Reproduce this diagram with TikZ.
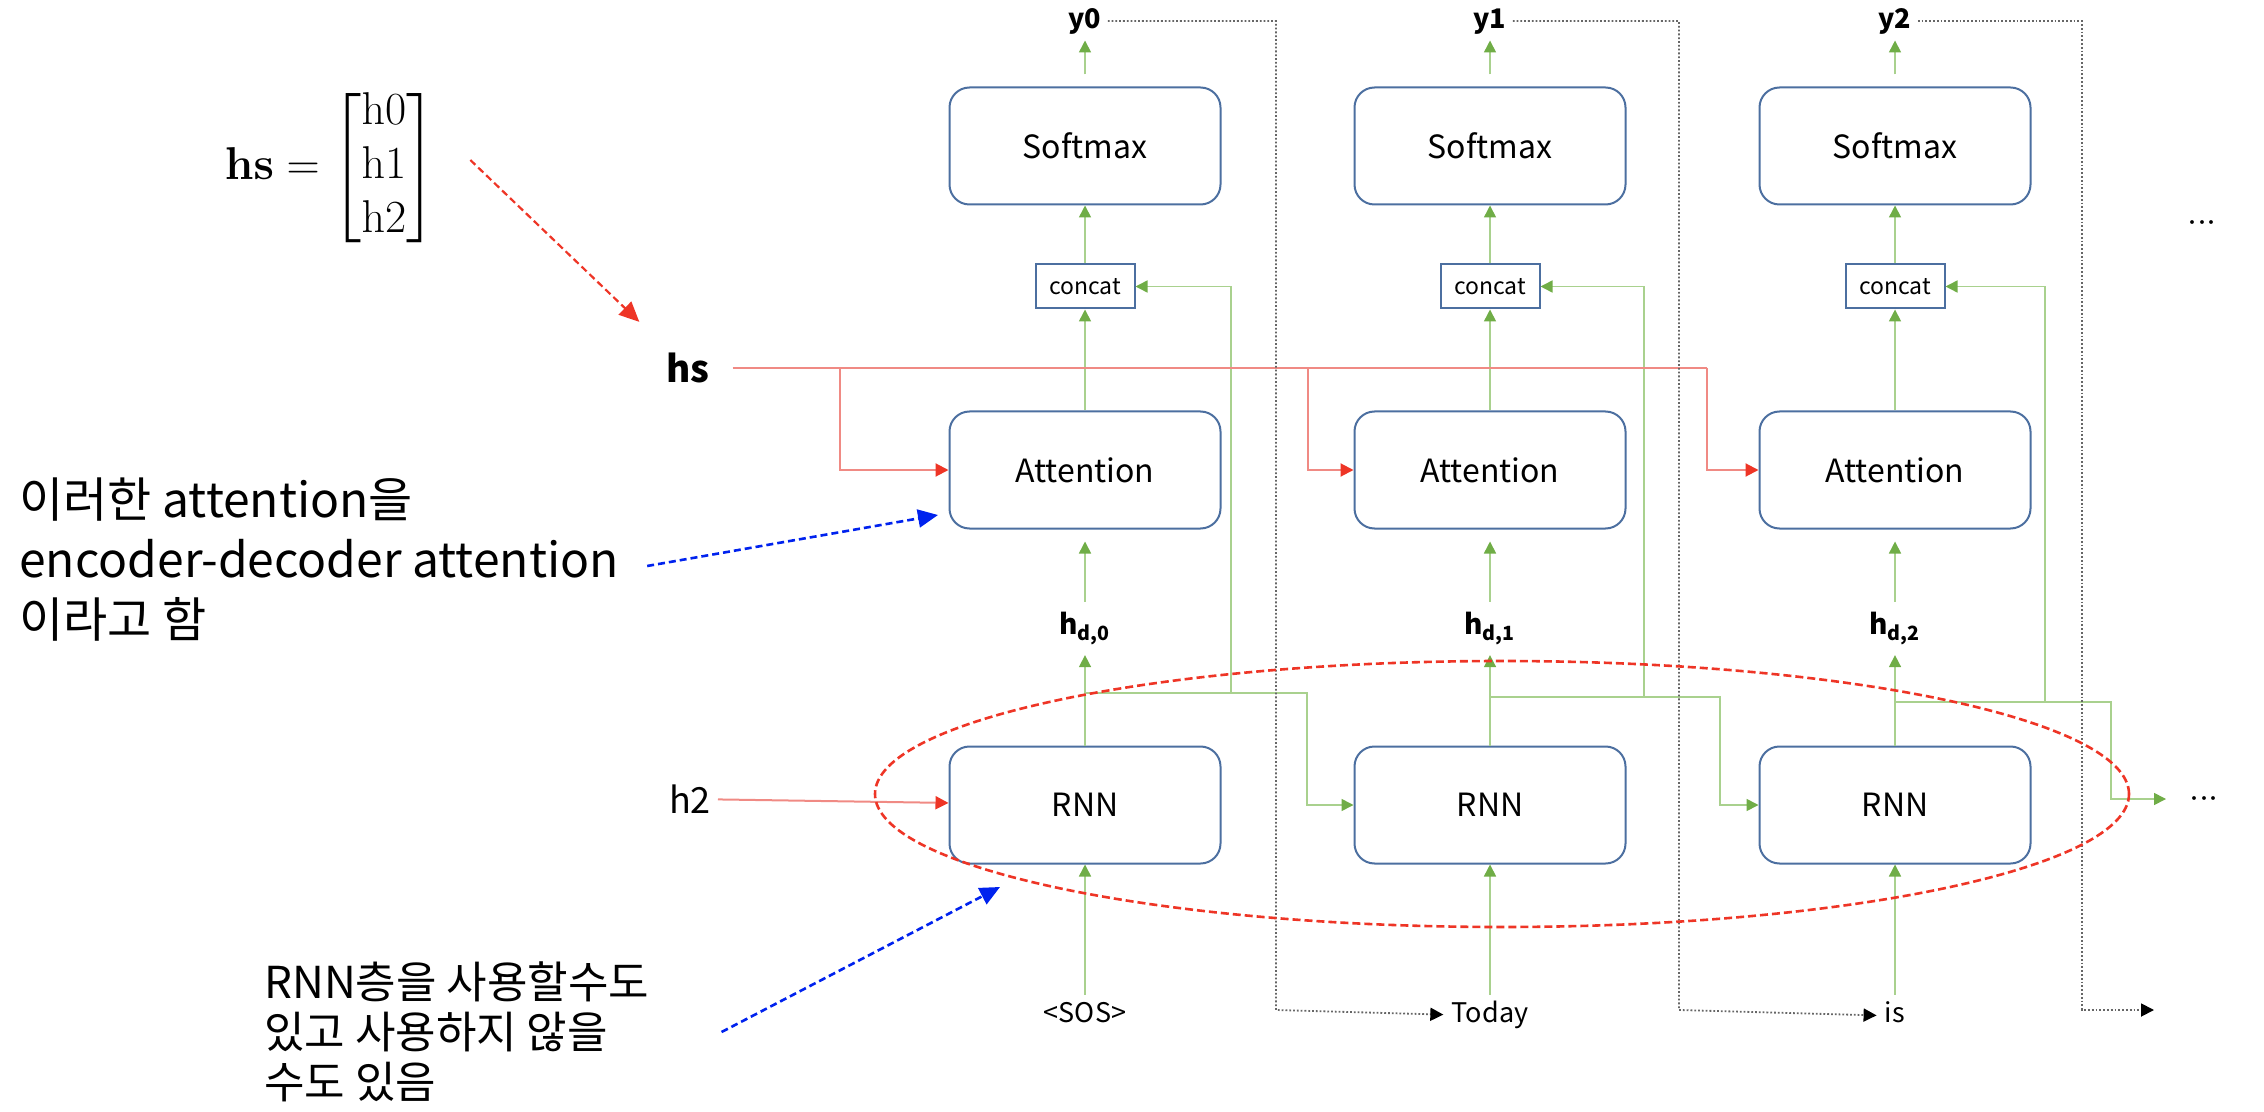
\RequirePackage{fix-cm}
\documentclass[tikz,border=0pt]{standalone}
\usepackage{amsmath}
\usepackage[no-math]{fontspec}
\setmainfont{Noto Sans CJK KR}
\usepackage{tikz}
\usetikzlibrary{arrows.meta,positioning}
\definecolor{boxblue}{HTML}{4C6FA0}
\definecolor{lgreen}{HTML}{A9D18E}
\definecolor{dgreen}{HTML}{70AD47}
\definecolor{softred}{HTML}{F08A84}
\definecolor{hotred}{HTML}{EE3526}
\definecolor{markblue}{HTML}{0022EE}
\definecolor{dotgray}{HTML}{666666}

\begin{document}
\begin{tikzpicture}[
  x=0.5pt,y=-0.5pt,
  node distance=66pt,
  box/.style={draw=boxblue,line width=1pt,rounded corners=10pt,
              minimum width=135.5pt,minimum height=58.5pt,font=\fontsize{16}{19}\selectfont},
  catbox/.style={draw=boxblue,line width=1pt,minimum width=49.5pt,minimum height=22pt,
              inner sep=0pt,font=\fontsize{11.5}{14}\selectfont},
  word/.style={font=\fontsize{13.5}{16}\selectfont,text height=10pt,text depth=3pt,inner sep=4pt},
  outlabel/.style={font=\bfseries\fontsize{13.5}{16}\selectfont,text height=10pt,text depth=3pt,inner sep=3pt},
  hdlabel/.style={font=\bfseries\fontsize{14}{17}\selectfont,inner sep=5pt},
  note/.style={align=left,inner sep=0pt},
  gline/.style={draw=lgreen,line width=0.8pt},
  garr/.style={gline,-{Triangle[length=6pt,width=6pt,color=dgreen]}},
  rline/.style={draw=softred,line width=1pt},
  rarr/.style={rline,-{Triangle[length=6.5pt,width=6.5pt,color=hotred]}},
  darr/.style={draw=dotgray,densely dotted,line width=0.9pt,-{Triangle[length=6.5pt,width=6.5pt,color=black]}},
  barr/.style={draw=markblue,dash pattern=on 3.5pt off 2pt,line width=1.3pt,-{Triangle[length=10pt,width=9pt]}},
  rdarr/.style={draw=hotred,dash pattern=on 3.5pt off 2pt,line width=1.1pt,-{Triangle[length=10pt,width=9pt]}}
]
\useasboundingbox (0,0) rectangle (2264,1112);

% decoder columns
\node[box] (soft0) at (1085,146) {Softmax};
\node[box,right=of soft0] (soft1) {Softmax};
\node[box,right=of soft1] (soft2) {Softmax};
\node[outlabel,above=23pt of soft0] (out0) {y0};
\node[outlabel,above=23pt of soft1] (out1) {y1};
\node[outlabel,above=23pt of soft2] (out2) {y2};
\node[catbox,below=29pt of soft0] (cat0) {concat};
\node[catbox,below=29pt of soft1] (cat1) {concat};
\node[catbox,below=29pt of soft2] (cat2) {concat};
\node[box,below=50.5pt of cat0] (att0) {Attention};
\node[box,below=50.5pt of cat1] (att1) {Attention};
\node[box,below=50.5pt of cat2] (att2) {Attention};
\node[hdlabel,below=36pt of att0] (hd0) {h\textsubscript{d,0}};
\node[hdlabel,below=36pt of att1] (hd1) {h\textsubscript{d,1}};
\node[hdlabel,below=36pt of att2] (hd2) {h\textsubscript{d,2}};
\node[box,below=108pt of att0] (rnn0) {RNN};
\node[box,below=108pt of att1] (rnn1) {RNN};
\node[box,below=108pt of att2] (rnn2) {RNN};
\node[word,below=65pt of rnn0] (in0) {<SOS>};
\node[word,below=65pt of rnn1] (in1) {Today};
\node[word,below=65pt of rnn2] (in2) {is};
\node[font=\fontsize{18}{20}\selectfont] (more1) at (2202,224) {$\mathord{\cdot}\mathord{\cdot}\mathord{\cdot}$};
\node[font=\fontsize{18}{20}\selectfont] (more2) at (2204,799) {$\mathord{\cdot}\mathord{\cdot}\mathord{\cdot}$};

% encoder side
\node[font=\fontsize{23}{27}\selectfont] (hsvec) at (330,168)
  {\delimitershortfall=15pt\delimiterfactor=800
   $\mathbf{hs} = \begin{bmatrix}\mathrm{h0}\\\mathrm{h1}\\\mathrm{h2}\end{bmatrix}$};
\node[font=\bfseries\fontsize{18.5}{22}\selectfont] (hs) at (688,368) {hs};
\node[font=\fontsize{18}{22}\selectfont] (h2) at (690,799) {h2};
\node[note,anchor=west,font=\fontsize{24}{30}\selectfont] (note1) at (19,560)
  {이러한 attention을\\encoder-decoder attention\\이라고 함};
\node[note,anchor=west,font=\fontsize{22}{25}\selectfont] (note2) at (264,1032)
  {RNN층을 사용할수도\\있고 사용하지 않을\\수도 있음};

\coordinate (d0) at (840,368);
\coordinate (d1) at (1308,368);
\coordinate (d2) at (1707,368);
\coordinate (b0) at (1085,693);
\coordinate (k0) at (1231,693);
\coordinate (j0) at (1307,693);
\coordinate (b1) at (1490,697);
\coordinate (k1) at (1644,697);
\coordinate (j1) at (1720,697);
\coordinate (b2) at (1895,702);
\coordinate (k2) at (2045,702);
\coordinate (j2) at (2111,702);
\coordinate (e2) at (2166,799);
\coordinate (f0) at (1276,1010);
\coordinate (f1) at (1679,1010);
\coordinate (f2) at (2082,1010);
\coordinate (e3) at (2154,1010);
\coordinate (t1) at (938,515);
\coordinate (t2) at (1000,887);

% main flow
\draw[garr] (in0) -- (rnn0);
\draw[garr] (rnn0) -- (hd0);
\draw[garr,shorten >=6pt] (hd0) -- (att0);
\draw[garr] (att0) -- (cat0);
\draw[garr] (cat0) -- (soft0);
\draw[garr,shorten <=6pt] (soft0) -- (out0);
\draw[garr] (in1) -- (rnn1);
\draw[garr] (rnn1) -- (hd1);
\draw[garr,shorten >=6pt] (hd1) -- (att1);
\draw[garr] (att1) -- (cat1);
\draw[garr] (cat1) -- (soft1);
\draw[garr,shorten <=6pt] (soft1) -- (out1);
\draw[garr] (in2) -- (rnn2);
\draw[garr] (rnn2) -- (hd2);
\draw[garr,shorten >=6pt] (hd2) -- (att2);
\draw[garr] (att2) -- (cat2);
\draw[garr] (cat2) -- (soft2);
\draw[garr,shorten <=6pt] (soft2) -- (out2);

% hidden state passed on
\draw[garr] (b0) -- (j0) |- (rnn1);
\draw[garr] (k0) |- (cat0);
\draw[garr] (b1) -- (j1) |- (rnn2);
\draw[garr] (k1) |- (cat1);
\draw[garr] (b2) -- (j2) |- (e2);
\draw[garr] (k2) |- (cat2);

% encoder states
\draw[rline,shorten <=8pt] (hs) -- (d2);
\draw[rarr] (d0) |- (att0);
\draw[rarr] (d1) |- (att1);
\draw[rarr] (d2) |- (att2);
\draw[rarr] (h2) -- (rnn0);

% outputs fed back as next input
\draw[darr] (out0) -| (f0) -- (in1);
\draw[darr] (out1) -| (f1) -- (in2);
\draw[darr] (out2) -| (f2) -- (e3);

% annotations
\draw[hotred,dash pattern=on 4pt off 2pt,line width=1.3pt] (1502,794) ellipse [x radius=313.5pt,y radius=66.5pt];
\draw[rdarr] ([xshift=14pt,yshift=4pt]hsvec.east) -- ([xshift=-10pt,yshift=12pt]hs.north west);
\draw[barr] ([xshift=14pt,yshift=-3pt]note1.east) -- (t1);
\draw[barr] ([xshift=36pt]note2.east) -- (t2);
\end{tikzpicture}
\end{document}
